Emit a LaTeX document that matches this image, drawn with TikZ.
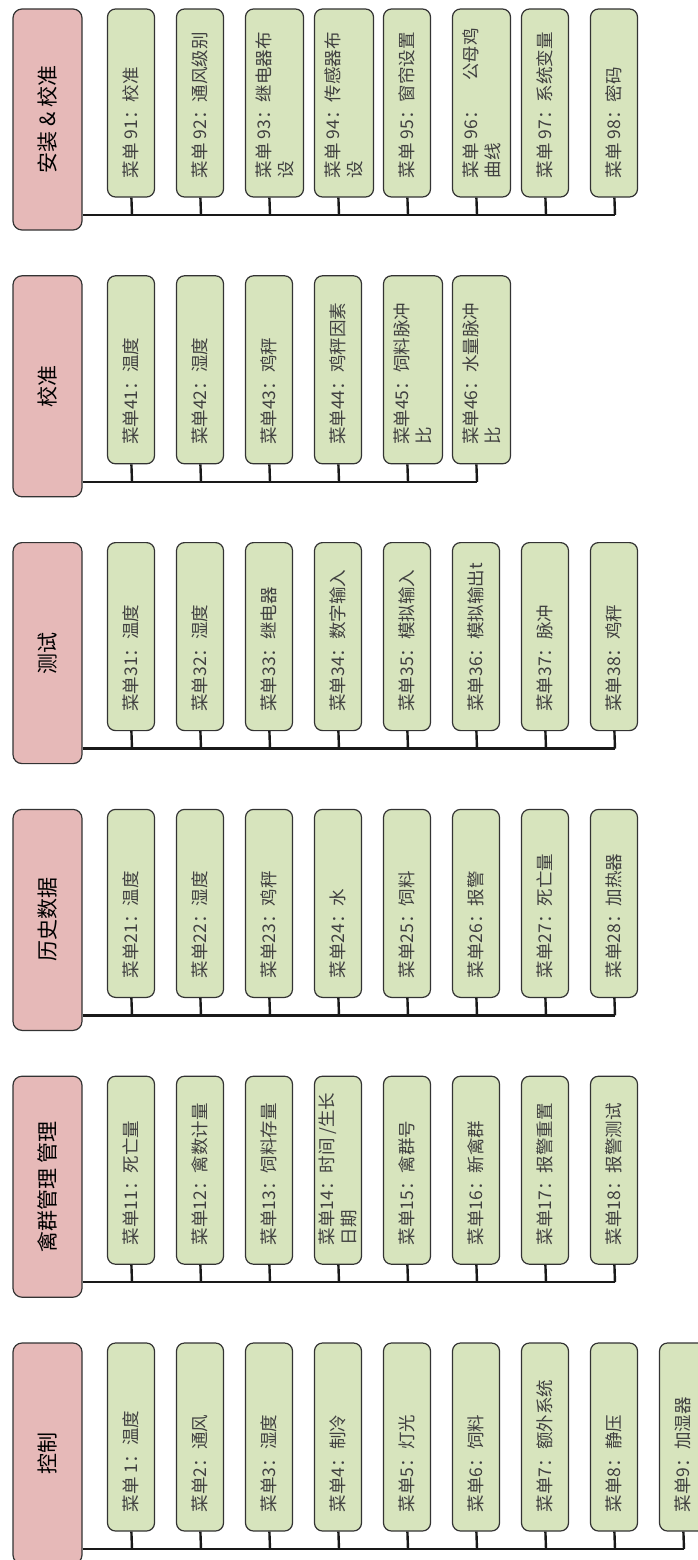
\documentclass[tikz,border=0pt]{standalone}
\usepackage{fontspec}
\newfontfamily\cjk{Noto Sans CJK SC}
\definecolor{hdrpink}{HTML}{E6B9B8}
\definecolor{itemgreen}{HTML}{D7E4BD}
\protected\def\myslash{/}
\tikzset{
  hdr/.style={draw=black!80, line width=1.2pt, fill=hdrpink, rounded corners=9pt,
    minimum width=69pt, minimum height=221pt, inner sep=0pt,
    font=\cjk\fontsize{21}{24}\selectfont},
  item/.style={draw=black!80, line width=1.2pt, fill=itemgreen, rounded corners=8pt,
    minimum height=188pt, inner sep=0pt,
    font=\cjk\fontsize{17.5}{22}\selectfont, text=black!75},
  conn/.style={line width=2.4pt, draw=black!90}
}
\newcommand\menugroup[4]{%
  \pgfmathsetmacro\yT{9+266.8*#1}
  \node[hdr] (#2) at (47.5,\yT+110.5) {\rotatebox{90}{#3}};
  \foreach \lab/\w [count=\i from 0] in {#4} {
    \pgfmathsetmacro\xL{107.5+69*\i}
    \node[item, minimum width=\w pt] (#2-\i) at (\xL+\w/2,\yT+94)
      {\rotatebox{90}{\parbox{150pt}{\raggedright \lab}}};
    \coordinate (#2-s\i) at (\xL+24.5,\yT+206);
    \draw[conn] ([xshift=24.5pt]#2-\i.south west) -- (#2-s\i);
    \xdef\lastS{#2-s\i}
  }
  \draw[conn] (#2.east |- \lastS) -- (\lastS);
}
\begin{document}
\begin{tikzpicture}[x=1pt,y=-1pt]
\useasboundingbox (0,0) rectangle (697,1560);
\menugroup{0}{install}{安装 \& 校准}{
  菜单 91：校准/47, 菜单 92：通风级别/47, {菜单 93：继电器布\\设}/58,
  {菜单 94：传感器布\\设}/59, 菜单 95：窗帘设置/47, {菜单 96：\hfill 公母鸡\\曲线}/58,
  菜单 97：系统变量/47, 菜单 98：密码/47}
\menugroup{1}{calib}{校准}{
  菜单41：温度/47, 菜单42：湿度/47, 菜单43：鸡秤/47, 菜单44：鸡秤因素/47,
  {菜单45：饲料脉冲\\比}/59, {菜单46：水量脉冲\\比}/58}
\menugroup{2}{test}{测试}{
  菜单31：温度/47, 菜单32：湿度/47, 菜单33：继电器/47, 菜单34：数字输入/47,
  菜单35：模拟输入/47, 菜单36：模拟输出t/47, 菜单37：脉冲/47, 菜单38：鸡秤/47}
\menugroup{3}{hist}{历史数据}{
  菜单21：温度/47, 菜单22：湿度/47, 菜单23：鸡秤/47, 菜单24：水/47,
  菜单25：饲料/47, 菜单26：报警/47, 菜单27：死亡量/47, 菜单28：加热器/47}
\menugroup{4}{flock}{禽群管理 管理}{
  菜单11：死亡量/47, 菜单12：禽数计量/47, 菜单13：饲料存量/47,
  {\mbox{菜单14：时间~\myslash 生长}\\日期}/47, 菜单15：禽群号/47, 菜单16：新禽群/47,
  菜单17：报警重置/47, 菜单18：报警测试/47}
\menugroup{5}{ctrl}{控制}{
  菜单 1：温度/47, 菜单2：通风/47, 菜单3：湿度/47, 菜单4：制冷/47, 菜单5：灯光/47,
  菜单6：饲料/47, 菜单7：额外系统/47, 菜单8：静压/47, 菜单9：加湿器/47}
\end{tikzpicture}
\end{document}
